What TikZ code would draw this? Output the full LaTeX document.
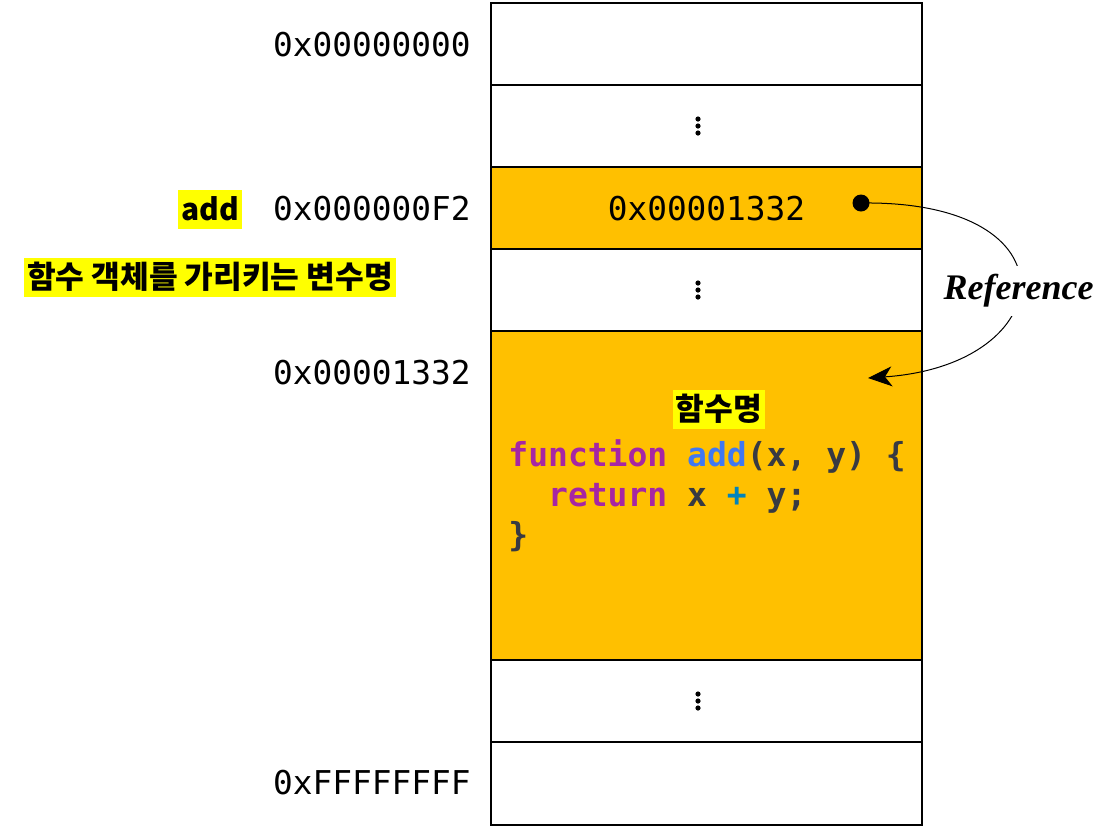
\documentclass[tikz,border=0pt]{standalone}
\usepackage{fontspec}
\usepackage{tikz}
\usetikzlibrary{arrows.meta}
\newfontfamily\monofont{DejaVu Sans Mono}
\newfontfamily\krfont{Noto Sans CJK KR}
\newfontfamily\reffont{Liberation Serif}
\definecolor{cellorange}{HTML}{FFC000}
\definecolor{hlyellow}{HTML}{FFFF00}
\definecolor{kwpurple}{HTML}{A626A4}
\definecolor{fnblue}{HTML}{4078F2}
\definecolor{codegray}{HTML}{383A42}
\definecolor{opblue}{HTML}{0184BC}
\newcommand{\kw}[1]{\textcolor{kwpurple}{#1}}
\newcommand{\memScale}[0]{0.5pt}

\begin{document}
\begin{tikzpicture}[x=\memScale, y=-\memScale]
  \tikzset{cell/.style={draw, line width=1.2pt, minimum width=215.5pt, inner sep=0pt},
    addrlabel/.style={anchor=east, inner sep=0pt, font=\monofont\fontsize{16.4}{20}\selectfont},
    hl/.style={fill=hlyellow, inner xsep=1.5pt, inner ysep=0pt, minimum height=19.5pt,
      font=\krfont\bfseries\fontsize{15.6}{18}\selectfont},
    code/.style={anchor=west, inner sep=0pt, align=left, text=codegray,
      font=\monofont\bfseries\fontsize{16.5}{20}\selectfont},
    refline/.style={line width=0.5pt, -{Stealth[length=12pt, width=10pt, inset=3.5pt]}},
    reflabel/.style={fill=white, inner xsep=0pt, minimum height=25pt, yshift=-3pt,
      font=\reffont\bfseries\itshape\fontsize{18}{20}\selectfont}}
  \useasboundingbox (0,0) rectangle (1110,827);
  % memory cells
  \foreach \ya/\yb/\clr [count=\i] in {3/85/white, 85/167/white, 167/249/cellorange,
      249/331/white, 331/660/cellorange, 660/742/white, 742/825/white}
    \node[cell, fill=\clr, minimum height={(\yb-\ya)*0.5pt}] (row\i) at (706.5,{(\ya+\yb)/2}) {};
  \foreach \r in {2,4,6}
    \foreach \d in {-3.5,0,3.5}
      \fill ([xshift=-4.25pt, yshift=\d pt]row\r.center) circle (1.3pt);
  % addresses
  \node[addrlabel] (addr0) at (471,45) {0x00000000};
  \node[addrlabel] (addrF2) at (471,209) {0x000000F2};
  \node[addrlabel] (addr1332) at (471,373) {0x00001332};
  \node[addrlabel] (addrF) at (471,783) {0xFFFFFFFF};
  \node[addrlabel, anchor=center] (val) at (706.5,209) {0x00001332};
  % names
  \node[hl, font=\krfont\bfseries\fontsize{15}{18}\selectfont] (varname) at (210,209) {add};
  \node[hl] (varnote) at (210,277) {함수 객체를 가리키는 변수명};
  \node[hl] (fnname) at (719,409) {함수명};
  \node[code] (fnbody) at (508,496) {\kw{function} \textcolor{fnblue}{add}(x, y) \{\\
    \phantom{xx}\kw{return} x \textcolor{opblue}{+} y;\\
    \}};
  % reference
  \node[circle, fill=black, inner sep=0pt, minimum size=8.5pt] (ptr) at (861,203) {};
  \coordinate (fnobj) at (868,378);
  \draw[refline] (ptr.center) .. controls (1080,200) and (1060,365) .. (fnobj)
    node[reflabel, pos=0.5] (reflbl) {Reference};
\end{tikzpicture}
\end{document}
